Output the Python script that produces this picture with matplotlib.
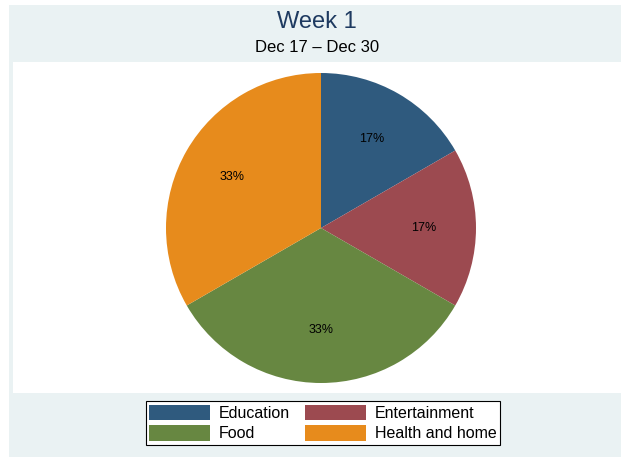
import matplotlib
matplotlib.use("Agg")
import matplotlib.pyplot as plt
from matplotlib.patches import Rectangle

categories = ["Education", "Entertainment", "Food", "Health and home"]
values = [1, 1, 2, 2]
colors = ["#2f5a7e", "#9c4a50", "#678741", "#e78b1c"]
title = "Week 1"
subtitle = "Dec 17 \u2013 Dec 30"

plt.rcParams['font.family'] = ['Liberation Sans', 'DejaVu Sans']

W, H = 621, 457
fig = plt.figure(figsize=(W / 100, H / 100), dpi=100)
fig.patch.set_facecolor("white")

def fx(px):
    return px / W

def fy(py):
    return 1 - py / H

# outer background
fig.patches.append(Rectangle((fx(9), fy(457)), fx(621) - fx(9), fy(5) - fy(457),
                             transform=fig.transFigure, facecolor="#eaf2f3",
                             edgecolor="none", zorder=-2))
# plot region
fig.patches.append(Rectangle((fx(13), fy(393)), fx(621) - fx(13), fy(62) - fy(393),
                             transform=fig.transFigure, facecolor="white",
                             edgecolor="none", zorder=-1))

# pie axes, square centered at (321, 228)
cx, cy, half = 321, 228, 160
ax = fig.add_axes([fx(cx - half), fy(cy + half), 2 * half / W, 2 * half / H])
ax.set_zorder(1)
ax.set_facecolor("none")
wedges, texts, autotexts = ax.pie(values, colors=colors, startangle=90, counterclock=False,
                                  radius=155 / 160, autopct=lambda p: f"{p:.0f}%",
                                  pctdistance=0.66,
                                  wedgeprops=dict(linewidth=0),
                                  textprops=dict(fontsize=9, color="black"))
ax.set_xlim(-1, 1)
ax.set_ylim(-1, 1)
ax.set_aspect("equal")
ax.axis("off")

fig.text(fx(317), fy(22), title, ha="center", va="center", fontsize=17, color="#1e3a60")
fig.text(fx(317), fy(47), subtitle, ha="center", va="center", fontsize=12, color="black")

# row-major order: Education, Entertainment / Food, Health and home
order = [0, 2, 1, 3]
leg = fig.legend([wedges[i] for i in order], [categories[i] for i in order],
                 ncol=2, loc="center",
                 bbox_to_anchor=(fx(323), fy(423)), fontsize=11.5,
                 frameon=True, fancybox=False, edgecolor="black", facecolor="white",
                 framealpha=1, handlelength=3.8, handleheight=1.1,
                 handletextpad=0.55, columnspacing=0.95, labelspacing=0.3,
                 borderpad=0.25, borderaxespad=0)
leg.get_frame().set_linewidth(0.8)
leg.set_zorder(2)

fig.savefig("out.png", dpi=100)
